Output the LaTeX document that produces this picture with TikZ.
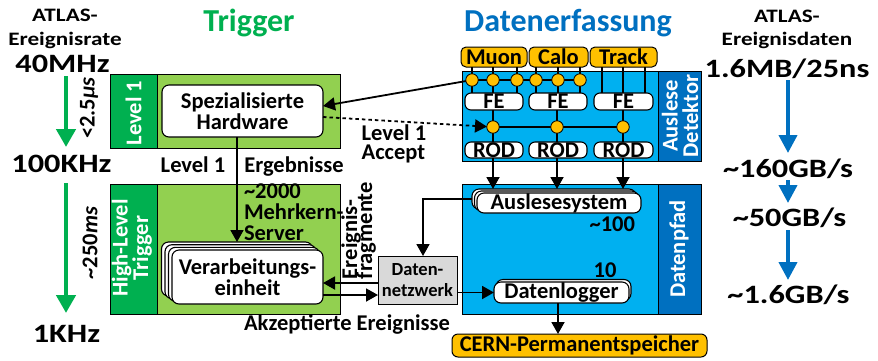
\documentclass[tikz,border=0pt]{standalone}
\usepackage{fontspec}
\setmainfont{Carlito}
\newfontfamily\widefont{Carlito}[FakeStretch=1.22]
\usetikzlibrary{arrows.meta,calc}
\definecolor{trgreen}{HTML}{00B050}
\definecolor{lgreen}{HTML}{92D050}
\definecolor{daqblue}{HTML}{0070C0}
\definecolor{lblue}{HTML}{00B0F0}
\definecolor{amber}{HTML}{FFC000}
\definecolor{netgray}{HTML}{D9D9D9}
\newcommand\fbody{\fontsize{22.5}{20.5}\selectfont\bfseries}
\newcommand\ftitle{\fontsize{32}{34}\selectfont\bfseries}
\newcommand\fhead{\widefont\fontsize{19}{23}\selectfont\bfseries}
\newcommand\fbig{\widefont\fontsize{26.5}{28}\selectfont\bfseries}
\newcommand\fsmall{\fontsize{18.5}{21}\selectfont\bfseries}
\tikzset{
  every node/.style={font=\fbody, inner sep=0pt, outer sep=0pt},
  panel/.style={draw, line width=0.8pt},
  wbox/.style={draw, fill=white, line width=1.1pt, rounded corners=7pt},
  tag/.style={draw, fill=amber, line width=1pt, rounded corners=5pt},
  dot/.style={circle, draw, fill=amber, line width=0.8pt, minimum size=12.5pt},
  wire/.style={line width=1.6pt},
  arr/.style={line width=1.8pt, -{Triangle[width=13pt,length=12pt]}},
  garr/.style={trgreen, line width=4.5pt, -{Triangle[width=19pt,length=18pt]}},
  barr/.style={daqblue, line width=4pt, -{Triangle[width=18pt,length=18pt]}},
  headtxt/.style={font=\fhead, anchor=base},
  bigtxt/.style={font=\fbig, anchor=base, text height=17pt, text depth=0pt},
  striptxt/.style={rotate=90, text=white, align=center},
  captxt/.style={text height=14.5pt},
}
\begin{document}
\begin{tikzpicture}[x=1pt,y=-1pt]
\useasboundingbox (0,0) rectangle (878,360);

% ---- titles
\node[font=\ftitle, text=trgreen, anchor=base] (ttrig) at (249,31) {Trigger};
\node[font=\ftitle, text=daqblue, anchor=base] (tdaq) at (568,31) {Datenerfassung};

% ---- event rate column
\node[headtxt] (la1) at (65,21.7) {ATLAS-};
\node[headtxt] (la2) at (65,45) {Ereignisrate};
\node[bigtxt] (r40) at (62.5,72) {40MHz};
\node[bigtxt] (r100) at (61.5,172) {100KHz};
\node[bigtxt] (r1) at (66.5,342) {1KHz};
\coordinate (gx) at (66,0);
\draw[garr, shorten <=4pt, shorten >=8pt] (r40.south -| gx) -- (r100.north -| gx);
\draw[garr, shorten <=11pt, shorten >=12pt] (r100.south -| gx) -- (r1.north -| gx);
\node[rotate=90] (lat1) at (89,108) {<2.5\textit{μs}};
\node[rotate=90] (lat2) at (90,243) {\textasciitilde 250\textit{ms}};

% ---- level 1 trigger
\node[panel, fill=lgreen, minimum width=230pt, minimum height=74pt] (l1) at (225,111) {};
\node[panel, fill=trgreen, minimum width=47pt, minimum height=74pt] (l1s) at (133.5,111) {};
\node[striptxt] (l1t) at (133.5,113) {Level 1};
\node[wbox, minimum width=161pt, minimum height=52pt, align=center] (hw) at (242.5,111) {Spezialisierte\\Hardware};

% ---- high level trigger
\node[panel, fill=lgreen, minimum width=230pt, minimum height=130pt] (hlt) at (225,249) {};
\node[panel, fill=trgreen, minimum width=47pt, minimum height=130pt] (hlts) at (133.5,249) {};
\node[striptxt] (hltt) at (132,248) {High-Level\\Trigger};
\node[wbox, minimum width=151pt, minimum height=54pt] (ve3) at (237,269) {};
\node[wbox, minimum width=151pt, minimum height=54pt] (ve2) at (240.5,271.7) {};
\node[wbox, minimum width=151pt, minimum height=54pt] (ve1) at (244,274.3) {};
\node[wbox, minimum width=151pt, minimum height=54pt, align=center] (ve) at (247.5,277) {Verarbeitungs-\\einheit};

\draw[arr] (hw.south -| ve3.north) -- (ve3.north);
\node[anchor=base] (lv1) at (193,172.5) {Level 1};
\node[anchor=base] (erg) at (294,172.5) {Ergebnisse};
\node[anchor=base west, captxt] (srv1) at (244,198) {\textasciitilde 2000};
\node[anchor=base west, captxt] (srv2) at (244,219) {Mehrkern-};
\node[anchor=base west, captxt] (srv3) at (244,240) {Server};

% ---- detector readout
\node[panel, fill=lblue, minimum width=239pt, minimum height=90pt] (det) at (581.5,116) {};
\node[panel, fill=daqblue, minimum width=43pt, minimum height=90pt] (dets) at (679.5,116) {};
\node[striptxt] (dett) at (680,116) {Auslese\\Detektor};

\node[tag, minimum width=66pt, minimum height=20pt] (muon) at (494,57) {Muon};
\node[tag, minimum width=59pt, minimum height=20pt] (calo) at (558.5,57) {Calo};
\node[tag, minimum width=67pt, minimum height=20pt] (track) at (623.5,57) {Track};

\node[wbox, rounded corners=6pt, minimum width=58pt, minimum height=17pt] (fe1) at (494,101.5) {FE};
\node[wbox, rounded corners=6pt, minimum width=58pt, minimum height=17pt] (fe2) at (558,101.5) {FE};
\node[wbox, rounded corners=6pt, minimum width=59pt, minimum height=17pt] (fe3) at (623.5,101.5) {FE};
\node[wbox, rounded corners=6pt, minimum width=58pt, minimum height=16pt] (rod1) at (494,150) {ROD};
\node[wbox, rounded corners=6pt, minimum width=58pt, minimum height=16pt] (rod2) at (558,150) {ROD};
\node[wbox, rounded corners=6pt, minimum width=59pt, minimum height=16pt] (rod3) at (623.5,150) {ROD};

\coordinate (a1) at (472,80);
\coordinate (a2) at (493,80);
\coordinate (a3) at (517,80);
\coordinate (a4) at (536,80);
\coordinate (a5) at (558,80);
\coordinate (a6) at (580,80);
\coordinate (tw1) at (602,80);
\coordinate (tw2) at (623,80);
\coordinate (tw3) at (645,80);
\coordinate (b1) at (493,127);
\coordinate (b2) at (557,127);
\coordinate (b3) at (623,127);

\foreach \p in {a1,a2,a3} \draw[wire] (muon.south -| \p) -- (fe1.north -| \p);
\foreach \p in {a4,a5,a6} \draw[wire] (calo.south -| \p) -- (fe2.north -| \p);
\foreach \p in {tw1,tw2,tw3} \draw[wire] (track.south -| \p) -- (fe3.north -| \p);
\draw[wire] (a1) -- (a6);
\draw[wire] (fe1.south -| b1) -- (rod1.north -| b1);
\draw[wire] (fe2.south -| b2) -- (rod2.north -| b2);
\draw[wire] (fe3.south -| b3) -- (rod3.north -| b3);
\draw[wire] (b1) -- (b3);

% level 1 signal paths
\draw[arr] (a1) -- ([yshift=5pt]hw.east);
\draw[arr, dash pattern=on 3.5pt off 3pt, shorten >=6pt] ([yshift=-6pt]hw.east) -- (b1);
\node[anchor=base west, captxt] (acc1) at (361.7,140.5) {Level 1};
\node[anchor=base west, captxt] (acc2) at (361.7,159) {Accept};

\foreach \p in {a1,a2,a3,a4,a5,a6,b1,b2,b3} \node[dot] at (\p) {};

% ---- data path
\node[panel, fill=lblue, minimum width=239pt, minimum height=130pt] (dp) at (581.5,249) {};
\node[panel, fill=daqblue, minimum width=43pt, minimum height=130pt] (dps) at (679.5,249) {};
\node[striptxt] (dpt) at (679,249) {Datenpfad};

\node[wbox, minimum width=164pt, minimum height=20pt] (as2) at (554,199) {};
\node[wbox, minimum width=164pt, minimum height=20pt] (as1) at (556.5,201) {};
\node[wbox, minimum width=164pt, minimum height=20pt] (as) at (559,203) {Auslesesystem};
\node[anchor=base east] (n100) at (635,231) {\textasciitilde 100};

\node[wbox, minimum width=135pt, minimum height=21pt] (dl2) at (563.5,290) {};
\node[wbox, minimum width=135pt, minimum height=21pt] (dl) at (561.5,292.5) {Datenlogger};
\node[anchor=base] (n10) at (605,277) {10};

\draw[arr] (rod1.south -| b1) -- (as2.north -| b1);
\draw[arr] (rod2.south -| b2) -- (as2.north -| b2);
\draw[arr] (rod3.south -| b3) -- (as2.north -| b3);

% ---- data network
\node[draw, fill=netgray, line width=0.8pt, minimum width=79pt, minimum height=48pt, align=center, font=\fsmall] (dn) at (417.5,280) {Daten-\\netzwerk};
\draw[arr] (as2.west) -| ([xshift=5.5pt]dn.north);
\draw[arr] ([yshift=-3pt]dn.west) -- ([yshift=-3pt]dn.west -| ve.east);
\draw[arr] ([yshift=-15pt]dn.west -| ve.east) -- ([yshift=-15pt]dn.west);
\draw[arr] (dn.east |- dl.west) -- (dl.west);
\node[rotate=90, anchor=base west] (ef1) at (357,279) {Ereignis-};
\node[rotate=90, anchor=base west] (ef2) at (372,279) {fragmente};
\node[anchor=base] (akz) at (347,330) {Akzeptierte Ereignisse};

% ---- permanent storage
\node[tag, rounded corners=6pt, minimum width=255pt, minimum height=23pt] (cern) at (579.5,345.5) {CERN-Permanentspeicher};
\draw[arr] ([xshift=-3.5pt]dl.south) -- ([xshift=-3.5pt]dl.south |- cern.north);

% ---- event data column
\node[headtxt] (ra1) at (787,22) {ATLAS-};
\node[headtxt] (ra2) at (787,45) {Ereignisdaten};
\node[bigtxt] (d1) at (787,77) {1.6MB/25ns};
\node[bigtxt] (d2) at (788,177) {\textasciitilde 160GB/s};
\node[bigtxt] (d3) at (789.5,226) {\textasciitilde 50GB/s};
\node[bigtxt] (d4) at (788.5,303) {\textasciitilde 1.6GB/s};
\coordinate (bx) at (788,0);
\draw[barr, shorten <=3pt, shorten >=7pt] (d1.south -| bx) -- (d2.north -| bx);
\draw[barr, shorten <=3pt, shorten >=6pt] (d2.south -| bx) -- (d3.north -| bx);
\draw[barr, shorten <=4pt, shorten >=6pt] (d3.south -| bx) -- (d4.north -| bx);
\end{tikzpicture}
\end{document}
